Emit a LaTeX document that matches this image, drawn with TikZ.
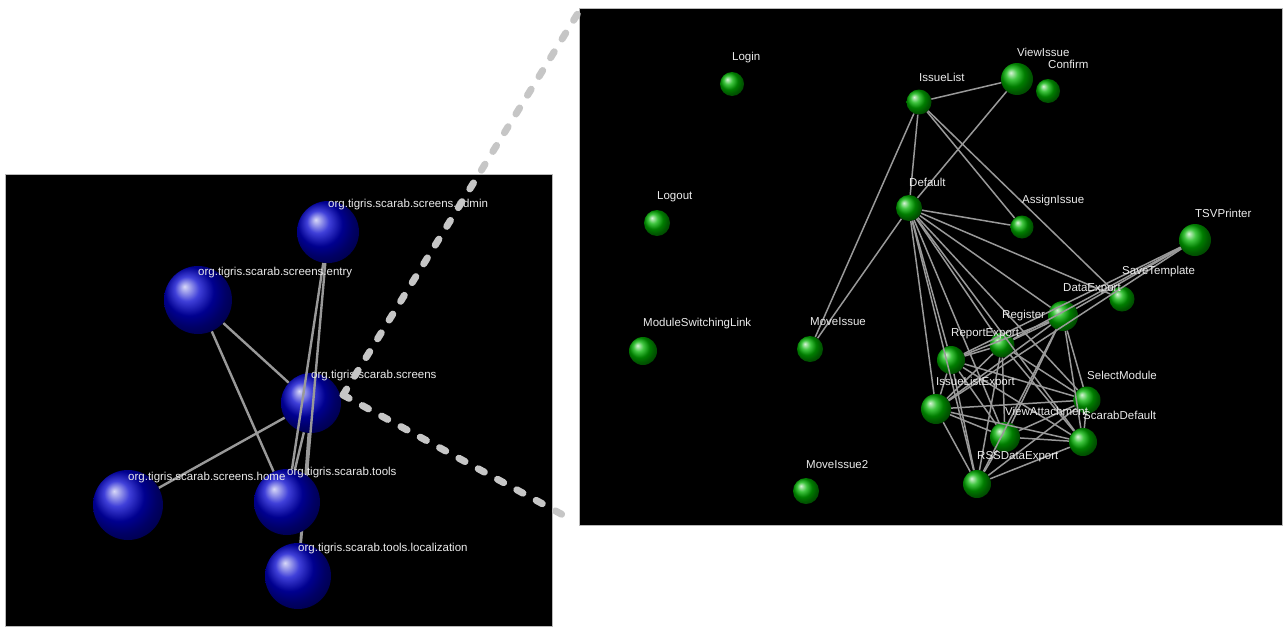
\documentclass[tikz,border=0pt]{standalone}
\usepackage{fontspec}
\setmainfont{Liberation Sans}
\usepackage{tikz}
\tikzset{
    panel/.style={fill=black, draw=gray!55, line width=0.8pt},
    blueball/.style={circle, ball color=blue!80!black, minimum size=#1, inner sep=0pt},
    greenball/.style={circle, ball color=green!70!black, minimum size=#1, inner sep=0pt},
    tag/.style={anchor=west, inner sep=0pt, text=white!92!black, font=\fontsize{11.5}{12}\selectfont},
    graphedge/.style={line width=1.5pt, draw=gray!80},
    thickedge/.style={line width=2.4pt, draw=gray!80},
    zoomline/.style={line width=7pt, draw=gray!45, line cap=round, dash pattern=on 7pt off 15pt}
}
\usetikzlibrary{positioning}
\pgfdeclarelayer{back}
\pgfdeclarelayer{edges}
\pgfsetlayers{back,edges,main}

\begin{document}
\begin{tikzpicture}[x=1pt, y=-1pt]
    \useasboundingbox (0,0) rectangle (1283,627);

    % package view
    \begin{pgfonlayer}{back}
        \fill[white] (0,0) rectangle (1283,627);
        \draw[panel] (5,174) rectangle (552,626);
        \draw[panel] (579,8) rectangle (1282.5,525);
        \node[blueball=60] (screens) at (311,403) {};
    \end{pgfonlayer}
    \node[blueball=62] (admin) at (328,232) {};
    \node[blueball=68] (entry) at (198,300) {};
    \node[blueball=70] (home) at (128,505) {};
    \node[blueball=66] (tools) at (287,502) {};
    \node[blueball=66] (localization) at (298,576) {};
    \begin{pgfonlayer}{edges}
        \draw[thickedge] (entry) -- (screens) -- (home);
        \draw[thickedge] (entry) -- (tools);
        \draw[thickedge] (admin) -- (tools);
        \draw[thickedge] (admin) -- (localization);
        \draw[thickedge] (screens) -- (tools);
        \draw[thickedge] (screens) -- (localization);
    \end{pgfonlayer}
    \node[tag] at ([yshift=27pt]admin.center) {org.tigris.scarab.screens.admin};
    \node[tag] at ([yshift=27pt]entry.center) {org.tigris.scarab.screens.entry};
    \node[tag] at ([yshift=27pt]screens.center) {org.tigris.scarab.screens};
    \node[tag] at ([yshift=27pt]home.center) {org.tigris.scarab.screens.home};
    \node[tag] at ([yshift=29pt]tools.center) {org.tigris.scarab.tools};
    \node[tag] at ([yshift=27pt]localization.center) {org.tigris.scarab.tools.localization};

    % screens view
    \node[greenball=24] (login) at (732,84) {};
    \node[greenball=26] (logout) at (657,223) {};
    \node[greenball=28] (moduleswitching) at (643,351) {};
    \node[greenball=26] (moveissue) at (810,349) {};
    \node[greenball=26] (moveissue2) at (806,491) {};
    \node[greenball=25] (issuelist) at (919,102) {};
    \node[greenball=32] (viewissue) at (1017,79) {};
    \node[greenball=24] (confirm) at (1048,91) {};
    \node[greenball=26] (default) at (909,208) {};
    \node[greenball=23] (assignissue) at (1022,227) {};
    \node[greenball=32] (tsvprinter) at (1195,240) {};
    \node[greenball=25] (savetemplate) at (1122,299) {};
    \node[greenball=30] (dataexport) at (1063,316) {};
    \node[greenball=25] (register) at (1002,345) {};
    \node[greenball=28] (reportexport) at (951,360) {};
    \node[greenball=30] (issuelistexport) at (936,409) {};
    \node[greenball=27] (selectmodule) at (1087,400) {};
    \node[greenball=30] (viewattachment) at (1005,437) {};
    \node[greenball=28] (scarabdefault) at (1083,442) {};
    \node[greenball=28] (rssdataexport) at (977,484) {};

    \draw[graphedge] (viewissue) -- (issuelist) -- (default) -- (viewissue);
    \draw[graphedge] (issuelist) -- (moveissue) -- (default);
    \draw[graphedge] (issuelist) -- (assignissue) -- (default);
    \draw[graphedge] (issuelist) -- (savetemplate) -- (default);
    \draw[graphedge] (default) -- (dataexport);
    \draw[graphedge] (default) -- (register);
    \draw[graphedge] (default) -- (reportexport);
    \draw[graphedge] (default) -- (issuelistexport);
    \draw[graphedge] (default) -- (rssdataexport);
    \draw[graphedge] (default) -- (viewattachment);
    \draw[graphedge] (default) -- (scarabdefault);
    \draw[graphedge] (default) -- (selectmodule);
    \draw[graphedge] (tsvprinter) -- (dataexport);
    \draw[graphedge] (tsvprinter) -- (register);
    \draw[graphedge] (tsvprinter) -- (reportexport);
    \draw[graphedge] (tsvprinter) -- (issuelistexport);
    % export cluster
    \draw[graphedge] (dataexport) -- (register) -- (reportexport) -- (issuelistexport) -- (rssdataexport) -- (scarabdefault) -- (selectmodule) -- (dataexport);
    \draw[graphedge] (dataexport) -- (reportexport) -- (selectmodule) -- (issuelistexport) -- (scarabdefault) -- (register) -- (rssdataexport) -- (dataexport);
    \draw[graphedge] (viewattachment) -- (dataexport) -- (issuelistexport) -- (register) -- (selectmodule) -- (rssdataexport) -- (reportexport) -- (scarabdefault) -- (dataexport);
    \draw[graphedge] (viewattachment) -- (register);
    \draw[graphedge] (viewattachment) -- (reportexport);
    \draw[graphedge] (viewattachment) -- (issuelistexport);
    \draw[graphedge] (viewattachment) -- (selectmodule);
    \draw[graphedge] (viewattachment) -- (scarabdefault);
    \draw[graphedge] (viewattachment) -- (rssdataexport);

    \node[tag] at ([yshift=26pt]login.center) {Login};
    \node[tag] at ([yshift=26pt]logout.center) {Logout};
    \node[tag] at ([yshift=27pt]moduleswitching.center) {ModuleSwitchingLink};
    \node[tag] at ([yshift=27pt]moveissue.center) {MoveIssue};
    \node[tag] at ([yshift=26pt]moveissue2.center) {MoveIssue2};
    \node[tag] at ([yshift=25pt]issuelist.center) {IssueList};
    \node[tag] at ([yshift=27pt]viewissue.center) {ViewIssue};
    \node[tag] at ([yshift=27pt]confirm.center) {Confirm};
    \node[tag] at ([yshift=26pt]default.center) {Default};
    \node[tag] at ([yshift=26pt]assignissue.center) {AssignIssue};
    \node[tag] at ([yshift=27pt]tsvprinter.center) {TSVPrinter};
    \node[tag] at ([yshift=27pt]savetemplate.center) {SaveTemplate};
    \node[tag] at ([yshift=27pt]dataexport.center) {DataExport};
    \node[tag] at ([yshift=29pt]register.center) {Register};
    \node[tag] at ([yshift=26pt]reportexport.center) {ReportExport};
    \node[tag] at ([yshift=26pt]issuelistexport.center) {IssueListExport};
    \node[tag] at ([yshift=25pt]selectmodule.center) {SelectModule};
    \node[tag] at ([yshift=26pt]viewattachment.center) {ViewAttachment};
    \node[tag] at ([yshift=27pt]scarabdefault.center) {ScarabDefault};
    \node[tag] at ([yshift=27pt]rssdataexport.center) {RSSDataExport};

    % zoom callout
    \coordinate (focus) at (343,395);
    \coordinate (topend) at (583,5);
    \coordinate (lowend) at (574,521);
    \draw[zoomline] (focus) -- (topend);
    \draw[zoomline] (focus) -- (lowend);
\end{tikzpicture}
\end{document}
